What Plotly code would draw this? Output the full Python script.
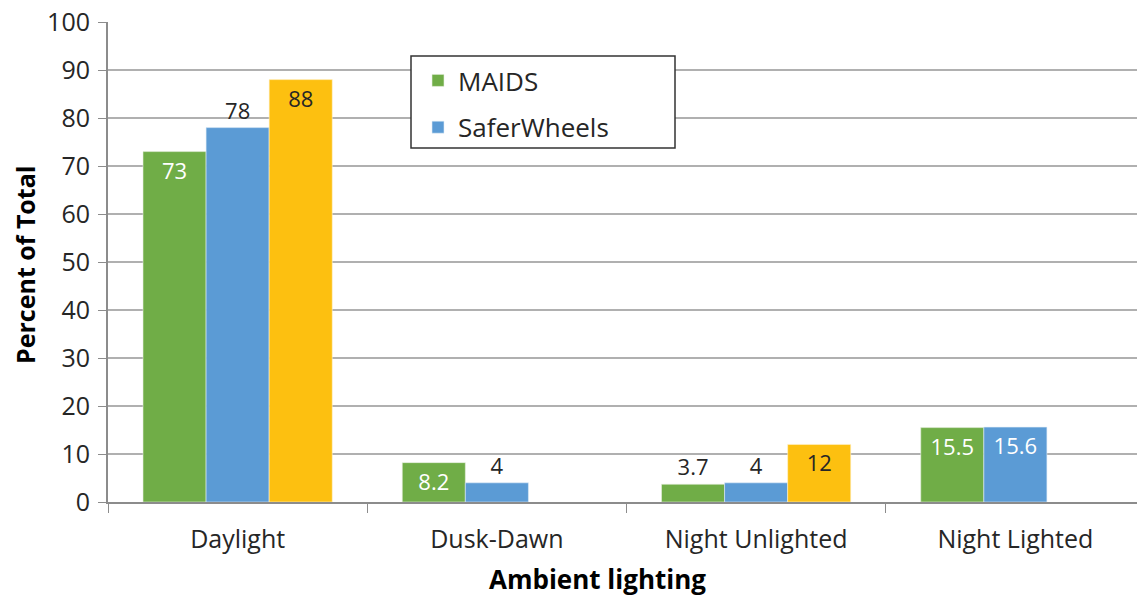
import plotly.graph_objects as go

categories = ["Daylight", "Dusk-Dawn", "Night Unlighted", "Night Lighted"]
maids = [73, 8.2, 3.7, 15.5]
saferwheels = [78, 4, 4, 15.6]
third = [88, None, 12, None]
y_ticks = [0, 10, 20, 30, 40, 50, 60, 70, 80, 90, 100]

FONT = "'Open Sans', sans-serif"
TXT = "#262626"
FS = 25      # tick labels
FL = 26      # legend
FD = 22      # data labels
FT = 26      # axis titles

# page offset (browser body margin) compensation
OFF = 8
PL, PR, PT, PB = 108, 1145, 22, 502   # plot area in page pixels
PW, PH = PR - PL, PB - PT

def fmt(v):
    return "" if v is None else ("%g" % v)

fig = go.Figure()
fig.add_trace(go.Bar(
    name="MAIDS", x=categories, y=maids, marker=dict(color="#70AD47", line=dict(color="#e8f0e0", width=0.6)),
    text=[fmt(v) for v in maids],
    textposition=["inside", "inside", "outside", "inside"],
    textfont=dict(color=["white", "white", TXT, "white"], size=FD, family=FONT),
    insidetextanchor="end", legendgroup="a", cliponaxis=False,
))
fig.add_trace(go.Bar(
    name="SaferWheels", x=categories, y=saferwheels, marker=dict(color="#5B9BD5", line=dict(color="#e0ecf7", width=0.6)),
    text=[fmt(v) for v in saferwheels],
    textposition=["outside", "outside", "outside", "inside"],
    textfont=dict(color=[TXT, TXT, TXT, "white"], size=FD, family=FONT),
    insidetextanchor="end", legendgroup="b", cliponaxis=False,
))
fig.add_trace(go.Bar(
    name="Other", x=categories, y=third, marker=dict(color="#FDC010", line=dict(color="#fff3d0", width=0.6)),
    text=[fmt(v) for v in third],
    textposition="inside",
    textfont=dict(color=TXT, size=FD, family=FONT),
    insidetextanchor="end", showlegend=False, cliponaxis=False,
))

fig.update_traces(textangle=0, constraintext="none")

fig.update_layout(
    width=1145, height=596,
    margin=dict(l=PL - OFF, r=1145 + OFF - PR, t=PT - OFF, b=596 + OFF - PB, autoexpand=False),
    plot_bgcolor="white", paper_bgcolor="white",
    font=dict(family=FONT, size=FS, color=TXT),
    barmode="group", bargap=0.27, bargroupgap=0,
    uniformtext=dict(minsize=FD, mode="show"),
    showlegend=True,
    legend=dict(
        x=(418 - PL) / PW, y=(PB - 57) / PH, xanchor="left", yanchor="top",
        bgcolor="rgba(0,0,0,0)", borderwidth=0,
        font=dict(size=FL, family=FONT, color=TXT),
        tracegroupgap=10,
    ),
    shapes=[dict(
        type="rect", xref="paper", yref="paper",
        x0=(411 - PL) / PW, x1=(675 - PL) / PW,
        y0=(PB - 148) / PH, y1=(PB - 56) / PH,
        line=dict(color="#333333", width=1.5), fillcolor="white", layer="above",
    )],
    annotations=[
        dict(text="<b>Ambient lighting</b>", xref="paper", yref="paper",
             x=(597 - PL) / PW, y=(PB - 579) / PH, xanchor="center", yanchor="middle",
             showarrow=False, font=dict(size=FT, family=FONT, color="black")),
        dict(text="<b>Percent of Total</b>", xref="paper", yref="paper",
             x=(25 - PL) / PW, y=(PB - 265) / PH, xanchor="center", yanchor="middle",
             textangle=-90, showarrow=False, font=dict(size=FT - 1, family=FONT, color="black")),
    ],
    xaxis=dict(
        automargin=False,
        showline=True, linecolor="#8c8c8c", linewidth=2,
        ticks="outside", tickson="boundaries", ticklen=9, tickcolor="#8c8c8c",
        tickfont=dict(size=FS, family=FONT, color=TXT),
        ticklabelstandoff=14, ticklabeloverflow="allow",
        showgrid=False,
    ),
    yaxis=dict(
        automargin=False,
        range=[0, 100], tickvals=y_ticks,
        showline=True, linecolor="#8c8c8c", linewidth=2,
        ticks="outside", ticklen=8, tickcolor="#8c8c8c",
        showgrid=True, gridcolor="#b0b0b0", gridwidth=1.5,
        tickfont=dict(size=FS, family=FONT, color=TXT),
        ticklabelstandoff=3, ticklabeloverflow="allow",
        zeroline=False,
    ),
)

fig.write_html("out.html")
